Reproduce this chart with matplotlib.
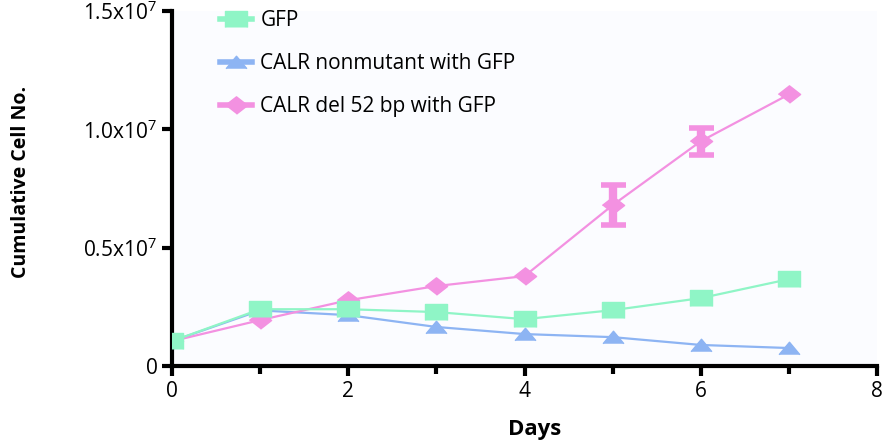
import matplotlib.pyplot as plt
import numpy as np

# -------------------- DATA --------------------
days = [0, 1, 2, 3, 4, 5, 6, 7]
gfp = [1.05e6, 2.4e6, 2.4e6, 2.28e6, 1.98e6, 2.36e6, 2.87e6, 3.67e6]
calr_wt = [1.05e6, 2.35e6, 2.15e6, 1.65e6, 1.35e6, 1.22e6, 0.89e6, 0.76e6]
calr_del = [1.05e6, 1.94e6, 2.78e6, 3.38e6, 3.8e6, 6.8e6, 9.5e6, 11.48e6]
calr_del_err = [0, 0, 0, 0, 0, 0.84e6, 0.57e6, 0]

labels = ["GFP", "CALR nonmutant with GFP", "CALR del 52 bp with GFP"]
colors = ["#8ff5c6", "#8db4f3", "#f391e1"]

yticks = [0, 0.5e7, 1.0e7, 1.5e7]
yticklabels = ["0", "0.5x10$^{7}$", "1.0x10$^{7}$", "1.5x10$^{7}$"]
xticks = [0, 2, 4, 6, 8]

# -------------------- STYLE --------------------
plt.rcParams["font.family"] = ["Open Sans", "DejaVu Sans"]
plt.rcParams["mathtext.fontset"] = "custom"
plt.rcParams["mathtext.rm"] = "Open Sans"
plt.rcParams["mathtext.it"] = "Open Sans"

sq = [(-1, -0.72), (-1, 0.72), (1, 0.72), (1, -0.72)]
tri = [(-1, -0.6), (0, 0.6), (1, -0.6)]
dia = [(-1, 0), (0, 0.78), (1, 0), (0, -0.78)]

fig = plt.figure(figsize=(8.85, 4.45), dpi=100)
ax = fig.add_axes([0.1944, 0.1775, 0.7966, 0.7975])
ax.set_facecolor("#fbfcff")

ax.plot(days, gfp, color=colors[0], lw=1.6, marker=sq, ms=16, label=labels[0], zorder=3)
ax.plot(days, calr_wt, color=colors[1], lw=1.6, marker=tri, ms=15, label=labels[1], zorder=2)
ax.plot(days, calr_del, color=colors[2], lw=1.6, marker=dia, ms=16, label=labels[2], zorder=2)
err = [e if e > 0 else np.nan for e in calr_del_err]
ax.errorbar(days, calr_del, yerr=err, fmt="none", ecolor=colors[2],
            elinewidth=6, capsize=9, capthick=4, zorder=2)

# -------------------- AXES --------------------
ax.set_xlim(0, 8)
ax.set_ylim(0, 1.5e7)
ax.set_xticks(xticks)
ax.set_xticks([1, 3, 5, 7], minor=True)
ax.set_yticks(yticks)
ax.set_yticklabels(yticklabels)
ax.tick_params(labelsize=15, width=3, length=7, colors="black")
ax.tick_params(axis="x", which="minor", width=3, length=6)
for s in ["top", "right"]:
    ax.spines[s].set_visible(False)
for s in ["left", "bottom"]:
    ax.spines[s].set_linewidth(3)

ax.set_xlabel("Days", fontsize=16, fontweight="bold")
ax.xaxis.set_label_coords(0.515, -0.15)
ax.set_ylabel("Cumulative Cell No.", fontsize=14, fontweight="bold")
ax.yaxis.set_label_coords(-0.20, 0.52)

leg = ax.legend(loc="upper left", bbox_to_anchor=(0.041, 1.055), frameon=False,
                fontsize=15, handlelength=1.55, labelspacing=1.05, handletextpad=0.4)
for h in leg.legend_handles:
    h.set_linewidth(4)

plt.savefig("out.png", dpi=100)
